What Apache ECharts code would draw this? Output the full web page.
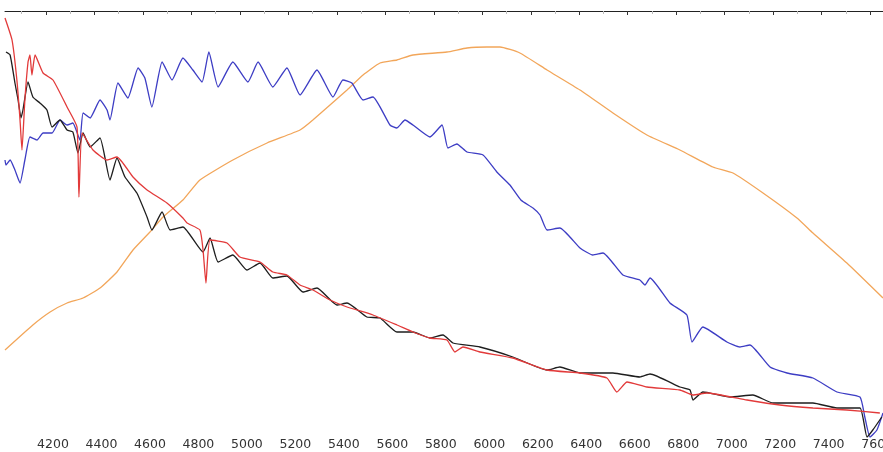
<!DOCTYPE html>
<html>
<head>
<meta charset="utf-8">
<script src="https://cdn.jsdelivr.net/npm/echarts@6/dist/echarts.min.js"></script>
<style>html,body{margin:0;padding:0;background:#fff}#c{width:883px;height:452px}</style>
</head>
<body>
<div id="c"></div>
<script>
// Wavelength tick labels (Angstrom)
const majorTicks = [4200,4400,4600,4800,5000,5200,5400,5600,5800,6000,6200,6400,6600,6800,7000,7200,7400,7600];
const minorTicks = [4100,4300,4500,4700,4900,5100,5300,5500,5700,5900,6100,6300,6500,6700,6900,7100,7300,7500];

// Orange curve: [wavelength, relative intensity]
const orange = [[4031,86],[4146,111],[4217,124],[4287,133],[4353,138],[4423,148],[4493,164],[4559,186],[4629,204],[4683,219],[4765,236],[4835,256],[4971,276],[5112,293],[5248,306],[5301,316],[5442,346],[5508,361],[5578,373],[5648,376],[5714,381],[5854,384],[5937,388],[6019,389],[6073,389],[6155,383],[6267,366],[6403,346],[6539,323],[6679,301],[6815,286],[6951,269],[7034,263],[7158,243],[7298,218],[7364,203],[7504,173],[7653,138]];

// Blue curve
const blue = [[4031,276],[4035,271],[4052,276],[4072,266],[4093,253],[4113,276],[4134,299],[4163,296],[4188,303],[4225,303],[4258,316],[4287,311],[4311,313],[4340,296],[4353,323],[4382,318],[4423,336],[4452,326],[4464,316],[4497,353],[4538,338],[4580,368],[4608,358],[4637,329],[4679,374],[4720,356],[4765,378],[4806,366],[4844,354],[4872,384],[4910,349],[4971,374],[5033,354],[5075,374],[5136,349],[5194,368],[5248,341],[5318,366],[5384,339],[5425,356],[5462,353],[5508,336],[5549,339],[5619,311],[5648,308],[5681,316],[5714,311],[5784,299],[5834,311],[5858,288],[5895,292],[5937,284],[6003,281],[6060,264],[6114,251],[6159,236],[6209,228],[6238,221],[6267,206],[6320,208],[6403,188],[6456,181],[6498,183],[6580,161],[6650,156],[6671,151],[6692,158],[6774,133],[6844,121],[6865,94],[6910,109],[7009,94],[7063,89],[7104,91],[7187,69],[7257,63],[7364,58],[7463,44],[7558,39],[7578,19],[7599,-1],[7628,6],[7653,23]];

// Black curve
const black = [[4035,384],[4052,381],[4072,353],[4085,336],[4097,318],[4105,326],[4126,354],[4146,339],[4175,333],[4204,326],[4225,309],[4258,316],[4287,306],[4311,304],[4332,283],[4353,303],[4382,289],[4423,298],[4464,256],[4493,278],[4526,259],[4575,243],[4617,219],[4637,206],[4679,224],[4712,206],[4765,209],[4848,184],[4877,198],[4910,174],[4971,181],[5029,166],[5083,173],[5136,158],[5194,160],[5260,144],[5318,148],[5400,131],[5442,133],[5524,119],[5578,118],[5648,104],[5714,104],[5784,98],[5838,101],[5879,93],[5990,89],[6126,79],[6267,66],[6320,69],[6403,63],[6539,63],[6650,59],[6692,62],[6815,49],[6857,46],[6869,36],[6910,44],[7022,39],[7116,41],[7199,33],[7364,33],[7463,28],[7558,28],[7587,-1],[7611,6],[7648,19]];

// Red curve
const red = [[4031,418],[4060,396],[4080,356],[4093,316],[4101,286],[4113,336],[4126,374],[4134,381],[4142,361],[4155,381],[4188,363],[4229,356],[4287,329],[4328,309],[4336,239],[4349,303],[4394,286],[4452,276],[4493,279],[4559,259],[4617,246],[4699,233],[4765,218],[4782,213],[4835,206],[4848,186],[4860,153],[4877,196],[4947,193],[5000,179],[5083,174],[5136,164],[5194,161],[5248,151],[5301,146],[5372,136],[5442,129],[5549,121],[5648,111],[5714,104],[5784,98],[5854,96],[5887,84],[5920,89],[5990,84],[6126,78],[6267,66],[6403,63],[6514,58],[6555,44],[6597,54],[6679,49],[6815,46],[6869,41],[6927,43],[7092,36],[7228,31],[7364,28],[7504,26],[7640,23]];

const X_MIN = 4031, X_MAX = 7653;

const chart = echarts.init(document.getElementById('c'), null, {renderer: 'canvas'});
function line(name, data, color, z) {
  return {
    name, type: 'line', data, showSymbol: false, symbol: 'none', clip: false, z,
    xAxisIndex: 0, yAxisIndex: 0, smooth: 0.15,
    lineStyle: {color, width: 1.3}
  };
}
const gridBox = {left: 5, right: 0, top: 11, bottom: 16, outerBoundsMode: 'none', containLabel: false};
chart.setOption({
  animation: false,
  backgroundColor: '#fff',
  grid: [Object.assign({}, gridBox), Object.assign({}, gridBox)],
  xAxis: [
    {
      gridIndex: 0, type: 'value', position: 'top', min: X_MIN, max: X_MAX,
      axisLine: {show: true, onZero: false, lineStyle: {color: '#222', width: 1}},
      axisTick: {show: true, inside: true, length: 4, lineStyle: {color: '#333'}, customValues: majorTicks},
      axisLabel: {show: false},
      splitLine: {show: false}
    },
    {
      gridIndex: 0, type: 'value', position: 'bottom', min: X_MIN, max: X_MAX,
      axisLine: {show: false, onZero: false},
      axisTick: {show: false},
      axisLabel: {
        show: true, customValues: majorTicks, margin: 2,
        fontFamily: 'DejaVu Sans', fontSize: 12.5, color: '#333',
        padding: [0, 0, 0, 14],
        formatter: v => String(v)
      },
      splitLine: {show: false}
    },
    {
      gridIndex: 1, type: 'value', position: 'top', min: X_MIN, max: X_MAX,
      axisLine: {show: false, onZero: false},
      axisTick: {show: true, inside: true, length: 3, lineStyle: {color: '#bbb'}, customValues: minorTicks},
      axisLabel: {show: false},
      splitLine: {show: false}
    }
  ],
  yAxis: [
    {gridIndex: 0, type: 'value', min: 0, max: 425, show: false, splitLine: {show: false}},
    {gridIndex: 1, type: 'value', min: 0, max: 425, show: false, splitLine: {show: false}}
  ],
  series: [
    line('orange', orange, '#f2a65a', 1),
    line('blue', blue, '#3d3dc4', 2),
    line('black', black, '#1e1e1e', 3),
    line('red', red, '#e23a3a', 4)
  ]
});
</script>
</body>
</html>
